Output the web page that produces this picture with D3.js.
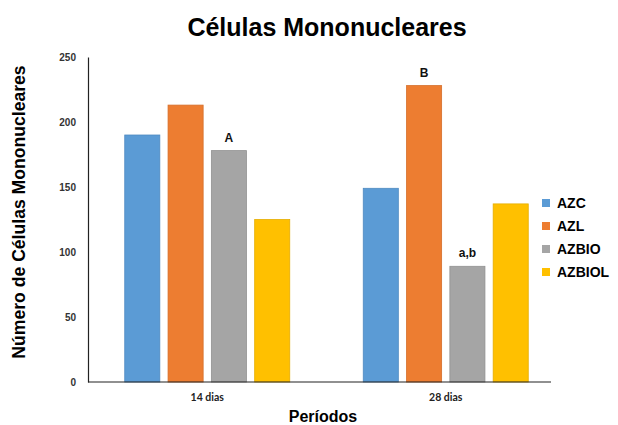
<!DOCTYPE html>
<html>
<head>
<meta charset="utf-8">
<script src="https://cdn.jsdelivr.net/npm/d3@7/dist/d3.min.js"></script>
<style>
  html, body { margin: 0; padding: 0; background: #fff; }
  svg { display: block; }
</style>
</head>
<body>
<svg id="chart" width="618" height="425"></svg>
<script>
// Periods on the x axis
const periods = ["14 dias", "28 dias"];
// Treatment groups (series)
const groups = ["AZC", "AZL", "AZBIO", "AZBIOL"];
const colors = ["#5B9BD5", "#ED7D31", "#A5A5A5", "#FFC000"];
const strokes = ["#4F8AC0", "#D56E2A", "#929292", "#E5AD00"];
// Mononuclear cell counts per group, one value per period
const azc = [190, 149];
const azl = [213, 228];
const azbio = [178, 89];
const azbiol = [125, 137];
const yTicks = [0, 50, 100, 150, 200, 250];
// Significance letters: [period, group, text]
const marks = [["14 dias", "AZBIO", "A"], ["28 dias", "AZL", "B"], ["28 dias", "AZBIO", "a,b"]];

const seriesValues = { AZC: azc, AZL: azl, AZBIO: azbio, AZBIOL: azbiol };
const rows = periods.map((p, i) => ({ period: p, values: groups.map(g => ({ group: g, value: seriesValues[g][i] })) }));

const svg = d3.select("#chart");
const plotLeft = 88, plotRight = 565, plotTop = 57, plotBottom = 382;

const x0 = d3.scaleBand().domain(periods).range([plotLeft, plotRight]).padding(0);
const groupSpan = 165;
const x1 = d3.scaleBand().domain(groups)
  .range([(x0.bandwidth() - groupSpan) / 2, (x0.bandwidth() + groupSpan) / 2])
  .paddingInner(0.19).paddingOuter(0);
const y = d3.scaleLinear().domain([0, 250]).range([plotBottom, plotTop]);
const color = d3.scaleOrdinal().domain(groups).range(colors);
const stroke = d3.scaleOrdinal().domain(groups).range(strokes);

// Bars
const barLayer = svg.append("g");
barLayer.selectAll("g.period").data(rows).join("g")
  .attr("class", "period")
  .attr("transform", d => `translate(${x0(d.period)},0)`)
  .selectAll("rect").data(d => d.values).join("rect")
  .attr("x", d => x1(d.group))
  .attr("y", d => y(d.value))
  .attr("width", x1.bandwidth())
  .attr("height", d => y(0) - y(d.value))
  .attr("fill", d => color(d.group))
  .attr("stroke", d => stroke(d.group))
  .attr("stroke-width", 0.8);

// Y axis
const yAxis = svg.append("g").attr("transform", `translate(${plotLeft},0)`)
  .call(d3.axisLeft(y).tickValues(yTicks).tickSize(0).tickPadding(12));
yAxis.select(".domain").attr("stroke", "#222").attr("stroke-width", 1.2);
yAxis.selectAll("text").attr("font-family", "Liberation Sans, Arial, sans-serif")
  .attr("font-size", 10).attr("font-weight", "bold").attr("fill", "#333");

// X axis
const xAxis = svg.append("g").attr("transform", `translate(0,${plotBottom})`)
  .call(d3.axisBottom(x0).tickSize(0).tickPadding(12));
xAxis.select(".domain").remove();
xAxis.append("line").attr("x1", plotLeft).attr("x2", 551).attr("y1", 0).attr("y2", 0)
  .attr("stroke", "#222").attr("stroke-width", 1.2);
xAxis.selectAll("text").attr("font-family", "Lato, Carlito, sans-serif")
  .attr("font-size", 10.5).attr("font-weight", "bold").attr("fill", "#222");

// Significance letters
svg.selectAll("text.mark").data(marks).join("text")
  .attr("class", "mark")
  .attr("x", d => x0(d[0]) + x1(d[1]) + x1.bandwidth() / 2)
  .attr("y", d => y(seriesValues[d[1]][periods.indexOf(d[0])]) - 9)
  .attr("text-anchor", "middle")
  .attr("font-family", "Liberation Sans, Arial, sans-serif")
  .attr("font-size", 12).attr("font-weight", "bold").attr("fill", "#111")
  .text(d => d[2]);

// Title
svg.append("text").attr("x", 327).attr("y", 36).attr("text-anchor", "middle")
  .attr("font-family", "Liberation Sans, Arial, sans-serif")
  .attr("font-size", 25).attr("font-weight", "bold").attr("fill", "#000")
  .text("Células Mononucleares");

// Axis titles
svg.append("text").attr("transform", "translate(25,212) rotate(-90)")
  .attr("text-anchor", "middle")
  .attr("font-family", "Liberation Sans, Arial, sans-serif")
  .attr("font-size", 17.6).attr("font-weight", "bold").attr("fill", "#000")
  .text("Número de Células Mononucleares");
svg.append("text").attr("x", 323).attr("y", 422).attr("text-anchor", "middle")
  .attr("font-family", "Liberation Sans, Arial, sans-serif")
  .attr("font-size", 16).attr("font-weight", "bold").attr("fill", "#000")
  .text("Períodos");

// Legend
const legend = svg.append("g").attr("transform", "translate(542,203)");
const item = legend.selectAll("g").data(groups).join("g")
  .attr("transform", (d, i) => `translate(0,${i * 23})`);
item.append("rect").attr("x", 0).attr("y", -4).attr("width", 8).attr("height", 8)
  .attr("fill", d => color(d));
item.append("text").attr("x", 15).attr("y", 5)
  .attr("font-family", "Liberation Sans, Arial, sans-serif")
  .attr("font-size", 14).attr("font-weight", "bold").attr("fill", "#000")
  .text(d => d);
</script>
</body>
</html>
